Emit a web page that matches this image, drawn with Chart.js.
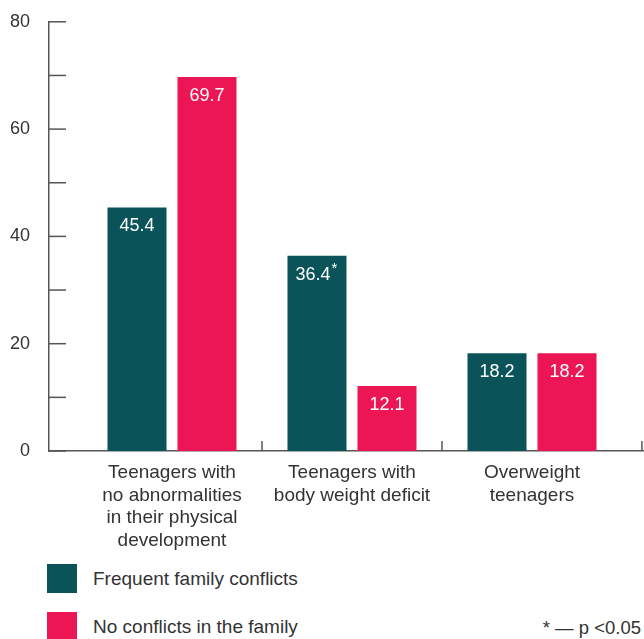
<!DOCTYPE html>
<html>
<head>
<meta charset="utf-8">
<title>Family conflicts and physical development of teenagers</title>
<script src="https://cdn.jsdelivr.net/npm/chart.js@4.4.0/dist/chart.umd.min.js"></script>
<style>
	body { margin: 0; background: #fff; font-family: "Liberation Sans", Arial, sans-serif; color: #333; }
	#wrap { position: relative; width: 644px; height: 639px; overflow: hidden; }
	#chart-box { position: absolute; left: 0; top: 0; width: 644px; height: 560px; }
	#legend { position: absolute; left: 47px; top: 564px; }
	#legend .item { display: flex; align-items: center; height: 29px; margin-bottom: 19px; font-size: 19px; }
	#legend .swatch { width: 30px; height: 29px; margin-right: 16px; }
	#note { position: absolute; right: 3px; top: 617px; font-size: 18.5px; }
</style>
</head>
<body>
<div id="wrap">
	<div id="chart-box"><canvas id="chart1"></canvas></div>
	<div id="legend"></div>
	<div id="note">* — p &lt;0.05</div>
</div>
<script>
var categories = [
	['Teenagers with', 'no abnormalities', 'in their physical', 'development'],
	['Teenagers with', 'body weight deficit'],
	['Overweight', 'teenagers']
];
var frequentConflicts = [45.4, 36.4, 18.2];
var noConflicts = [69.7, 12.1, 18.2];
// * marks p < 0.05
var frequentSignificant = [false, true, false];
var noConflictsSignificant = [false, false, false];
var yTickLabels = [0, 20, 40, 60, 80];

var color = {
	teal: '#0a5459',
	pink: '#ec1655',
	axis: '#555555',
	text: '#333333'
};
var fontFamily = '"Liberation Sans", Arial, sans-serif';

function toPoints(values) {
	return values.map(function(v, i) { return { x: i, y: v }; });
}

// inward tick marks on both axes
var axisTicks = {
	id: 'axisTicks',
	afterDraw: function(chart) {
		var ctx = chart.ctx, x = chart.scales.x, y = chart.scales.y, area = chart.chartArea;
		ctx.save();
		ctx.strokeStyle = color.axis;
		ctx.lineWidth = 1.5;
		y.ticks.forEach(function(t) {
			var py = y.getPixelForValue(t.value);
			ctx.beginPath();
			ctx.moveTo(area.left, py);
			ctx.lineTo(area.left + 17, py);
			ctx.stroke();
		});
		[0.5, 1.5, x.max - 0.006].forEach(function(v) {
			var px = x.getPixelForValue(v);
			ctx.beginPath();
			ctx.moveTo(px, area.bottom);
			ctx.lineTo(px, area.bottom - 10);
			ctx.stroke();
		});
		ctx.restore();
	}
};

// white values inside the top of each bar
var valueLabels = {
	id: 'valueLabels',
	afterDatasetsDraw: function(chart) {
		var ctx = chart.ctx;
		ctx.save();
		ctx.fillStyle = '#fff';
		ctx.textBaseline = 'middle';
		ctx.textAlign = 'left';
		chart.data.datasets.forEach(function(ds, di) {
			var meta = chart.getDatasetMeta(di);
			meta.data.forEach(function(bar, i) {
				var text = ds.data[i].y.toFixed(1);
				var star = ds.significant[i];
				ctx.font = '18px ' + fontFamily;
				var w = ctx.measureText(text).width;
				var left = bar.x - (w + (star ? 8 : 0)) / 2;
				ctx.fillText(text, left, bar.y + 19);
				if (star) {
					ctx.font = '15px ' + fontFamily;
					ctx.fillText('*', left + w + 1, bar.y + 13);
				}
			});
		});
		ctx.restore();
	}
};

var htmlLegend = {
	id: 'htmlLegend',
	afterUpdate: function(chart) {
		var box = document.getElementById('legend');
		box.innerHTML = '';
		chart.data.datasets.forEach(function(ds) {
			var item = document.createElement('div');
			item.className = 'item';
			var sw = document.createElement('span');
			sw.className = 'swatch';
			sw.style.background = ds.backgroundColor;
			item.appendChild(sw);
			item.appendChild(document.createTextNode(ds.label));
			box.appendChild(item);
		});
	}
};

var ctx = document.getElementById('chart1').getContext('2d');
var chart1 = new Chart(ctx, {
	type: 'bar',
	data: {
		datasets: [{
			label: 'Frequent family conflicts',
			backgroundColor: color.teal,
			data: toPoints(frequentConflicts),
			significant: frequentSignificant
		}, {
			label: 'No conflicts in the family',
			backgroundColor: color.pink,
			data: toPoints(noConflicts),
			significant: noConflictsSignificant
		}]
	},
	options: {
		responsive: true,
		maintainAspectRatio: false,
		animation: false,
		categoryPercentage: 0.7778,
		barPercentage: 0.843,
		layout: { padding: { top: 18, right: 1, left: 0, bottom: 0 } },
		plugins: {
			legend: { display: false },
			tooltip: { enabled: false }
		},
		scales: {
			x: {
				type: 'linear',
				offset: false,
				min: -0.6833,
				max: 2.6167,
				grid: { display: false, offset: false },
				border: { display: true, color: color.axis, width: 1.5 },
				afterBuildTicks: function(scale) {
					scale.ticks = categories.map(function(c, i) { return { value: i }; });
				},
				afterFit: function(scale) { scale.height = 109; },
				ticks: {
					autoSkip: false,
					maxRotation: 0,
					padding: 3,
					color: color.text,
					font: { family: fontFamily, size: 19, lineHeight: 1.18 },
					callback: function(value) { return categories[Math.round(value)]; }
				}
			},
			y: {
				min: 0,
				max: 80,
				grid: { display: false },
				border: { display: true, color: color.axis, width: 1.5 },
				afterFit: function(scale) { scale.width = 49; },
				ticks: {
					stepSize: 10,
					padding: 11,
					color: color.text,
					font: { family: fontFamily, size: 18 },
					callback: function(value) { return yTickLabels.indexOf(value) >= 0 ? value : ''; }
				}
			}
		}
	},
	plugins: [axisTicks, valueLabels, htmlLegend]
});
</script>
</body>
</html>
